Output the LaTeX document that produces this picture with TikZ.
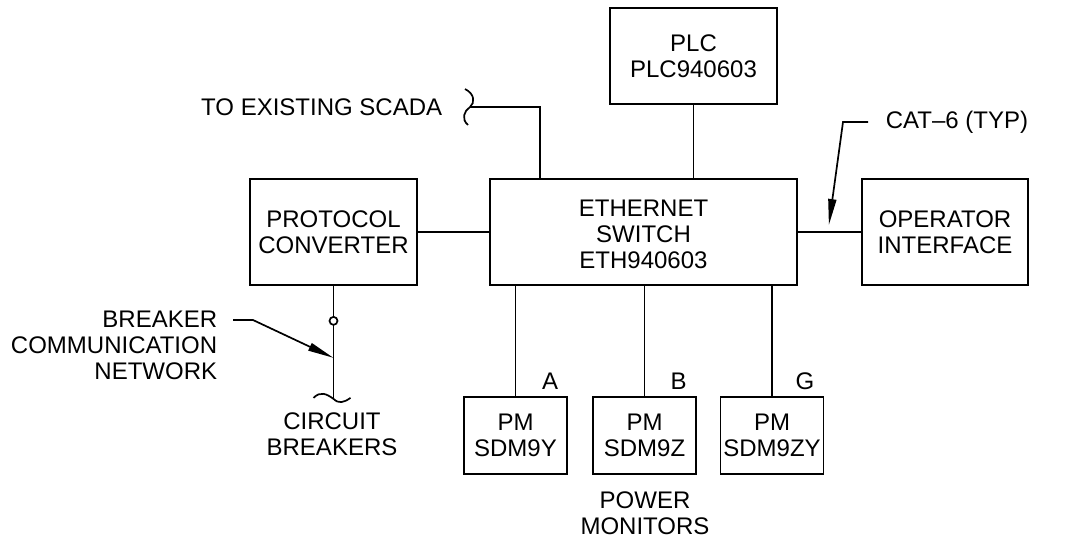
\documentclass[tikz,border=0pt]{standalone}
\usepackage{fontspec}
\setmainfont{Liberation Sans}
\usetikzlibrary{arrows.meta,calc,positioning}

\begin{document}
\begin{tikzpicture}[x=1pt,y=-1pt,line width=1.7pt,
  font=\fontsize{24}{26}\selectfont,
  box/.style={draw,align=center,inner sep=0pt},
  lbl/.style={inner sep=0pt,align=center},
  lead/.style={-{Triangle[length=26pt,width=8pt]}}]
  \useasboundingbox (0,0) rectangle (1078,550);
  % devices
  \node[box,minimum width=167,minimum height=96] (plc) at (693.5,56) {PLC\\PLC940603};
  \node[box,minimum width=307,minimum height=106] (eth) at (643.5,232) {\rule{0pt}{22pt}ETHERNET\\SWITCH\\ETH940603};
  \node[box,minimum width=167,minimum height=106] (conv) at (333.5,232) {PROTOCOL\\CONVERTER};
  \node[box,minimum width=166,minimum height=106] (opi) at (945,232) {OPERATOR\\INTERFACE};
  \node[box,minimum width=103,minimum height=77] (pm1) at (515.5,435.5) {PM\\SDM9Y};
  \node[box,minimum width=103,minimum height=77] (pm2) at (644.5,435.5) {PM\\SDM9Z};
  \node[box,minimum width=103,minimum height=77] (pm3) at (772,435.5) {PM\\SDM9ZY};
  % links
  \draw (plc.south) -- (plc.south |- eth.north);
  \draw (conv.east) -- (eth.west);
  \draw (eth.east) -- (opi.west);
  \foreach \p in {pm1,pm2,pm3}
    \draw (\p.north) -- (\p.north |- eth.south);
  \node[lbl] (la) at ($(pm1.north)+(34.5,-15)$) {A};
  \node[lbl] (lb) at ($(pm2.north)+(34,-15)$) {B};
  \node[lbl] (lg) at ($(pm3.north)+(33,-15)$) {G};
  \node[lbl] (pmlbl) at (645,513) {POWER\\MONITORS};
  % scada
  \node[lbl,anchor=east] (scadalbl) at (443,107) {TO EXISTING SCADA};
  \coordinate (scada) at (470,107);
  \draw ($(eth.north west)+(51,0)$) |- (scada);
  \draw (465,89) .. controls (475,94) and (475,103) .. (scada)
    .. controls (464,111) and (461,119) .. (468,125);
  % cat-6 note
  \node[lbl,anchor=west] (cat) at (885,122) {CAT--6 (TYP)};
  \draw[lead] ($(cat.west)+(-17,0)$) -- ++(-25,0) -- ($(eth.east)+(31,-7)$);
  % breaker network
  \coordinate (brk) at ($(conv.south)+(0,113)$);
  \draw (conv.south) -- (brk);
  \draw[fill=white] ($(conv.south)+(0,35)$) circle (4);
  \draw (brk) ++(-20,-1) .. controls ++(7,-7) and ++(-7,-5) .. (brk)
    .. controls ++(5,5) and ++(-7,5) .. ++(17,-1);
  \node[lbl,align=right,anchor=east] (brklbl) at (218,345) {BREAKER\\COMMUNICATION\\NETWORK};
  \draw[lead] ($(brklbl.east)+(15,-25)$) -- ++(20,0) -- ($(conv.south)+(0,72)$);
  \node[lbl] (cb) at (332,434) {CIRCUIT\\BREAKERS};
\end{tikzpicture}
\end{document}
